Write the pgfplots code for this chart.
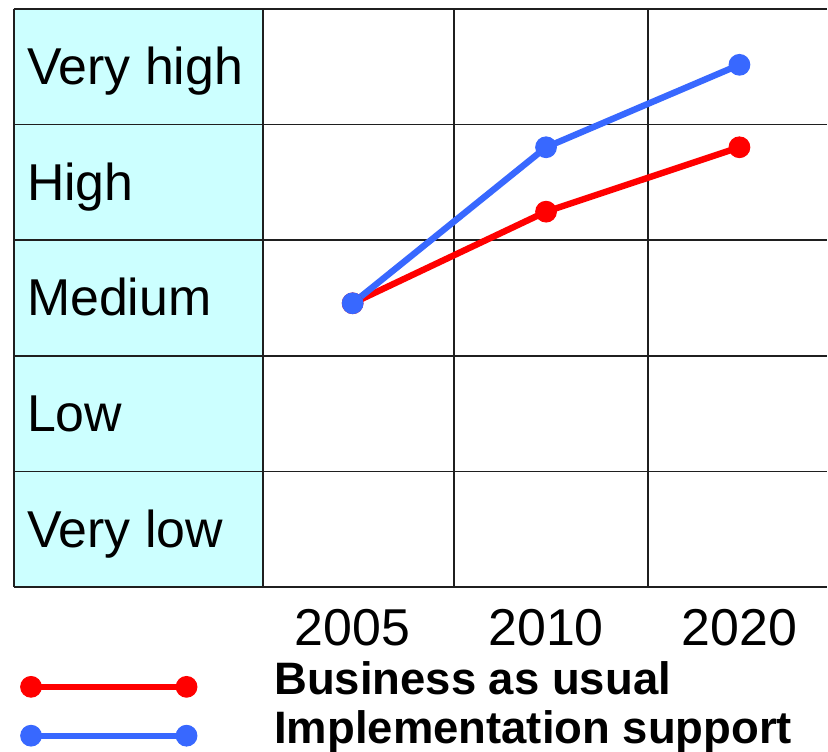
\documentclass[border=0pt]{standalone}
\usepackage{pgfplots}
\pgfplotsset{compat=1.18}
\usepackage{fontspec}
\setmainfont{Liberation Sans}
\definecolor{bau}{RGB}{255,0,0}
\definecolor{impl}{RGB}{56,104,255}
\definecolor{lcyan}{RGB}{204,255,255}
\begin{document}
\begin{tikzpicture}
\begin{axis}[
 at={(6pt,372.5pt)}, anchor=north west,
 width=408pt, height=290pt, scale only axis,
 set layers=standard,
 xmin=-1.7526, xmax=2.4536, ymin=0.5, ymax=5.5,
 xtick={0,1,2}, xticklabels={2005,2010,2020},
 minor xtick={-1.7526,-0.4639,0.5258,1.5258},
 xminorgrids, ymajorgrids,
 ytick={0.5,1.5,2.5,3.5,4.5,5.5}, yticklabels={},
 axis line style={draw=none}, tick style={draw=none},
 grid style={black!88, line width=0.85pt},
 minor grid style={black!88, line width=0.85pt},
 /pgf/number format/assume math mode=true,
 xticklabel style={font=\fontsize{26}{31}\selectfont, anchor=base, yshift=-29.5pt},
 clip=false,
 legend cell align=left,
 legend style={at={(rel axis cs:0,0)}, anchor=north west, xshift=3.5pt, yshift=-32.5pt,
   draw=none, fill=none, inner sep=0pt, outer sep=0pt, row sep=0pt, column sep=0pt,
   nodes={inner sep=0pt, text height=21.5pt, text depth=3pt,
     font=\fontsize{22.8}{27}\selectfont\bfseries, anchor=base west}},
 legend image code/.code={\draw[#1] plot coordinates {(0pt,4pt) (78pt,4pt)};
   \path[draw=none, fill=none] (0pt,4pt) -- (122pt,4pt);},
]
\addplot[fill=lcyan, draw=none, on layer=axis background, forget plot]
 coordinates {(-1.7526,0.5) (-0.4639,0.5) (-0.4639,5.5) (-1.7526,5.5)} -- cycle;
\addplot[bau, line width=3.2pt, mark=*, mark size=5.2pt, mark options={line width=0.5pt}]
 coordinates {(0,2.955) (1,3.747) (2,4.304)};
\addlegendentry{Business as usual}
\addplot[impl, line width=3.2pt, mark=*, mark size=5.2pt, mark options={line width=0.5pt}]
 coordinates {(0,2.955) (1,4.304) (2,5.017)};
\addlegendentry{Implementation support}
\node[anchor=base west, inner sep=0pt, xshift=6.5pt, font=\fontsize{26}{31}\selectfont] at (axis cs:-1.7526,4.845) {Very high};
\node[anchor=base west, inner sep=0pt, xshift=6.5pt, font=\fontsize{26}{31}\selectfont] at (axis cs:-1.7526,3.845) {High};
\node[anchor=base west, inner sep=0pt, xshift=6.5pt, font=\fontsize{26}{31}\selectfont] at (axis cs:-1.7526,2.845) {Medium};
\node[anchor=base west, inner sep=0pt, xshift=6.5pt, font=\fontsize{26}{31}\selectfont] at (axis cs:-1.7526,1.845) {Low};
\node[anchor=base west, inner sep=0pt, xshift=6.5pt, font=\fontsize{26}{31}\selectfont] at (axis cs:-1.7526,0.845) {Very low};
\end{axis}
\path (0pt,0pt) rectangle (414pt,377pt);
\end{tikzpicture}
\end{document}
